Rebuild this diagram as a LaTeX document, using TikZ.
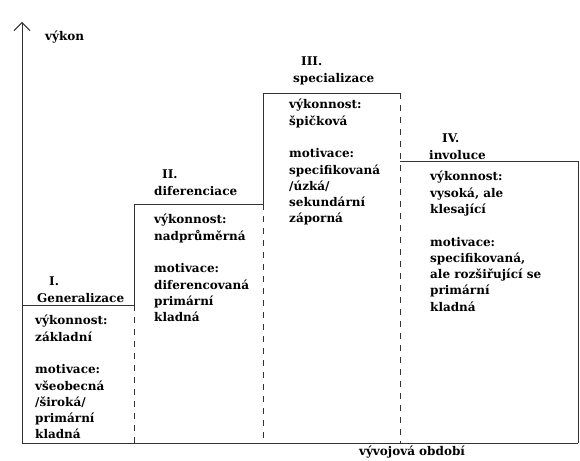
\documentclass[tikz,border=0pt]{standalone}
\usepackage{fontspec}
\setmainfont{DejaVu Serif}
\usetikzlibrary{positioning, arrows.meta}

\begin{document}
\begin{tikzpicture}[
    x=1pt, y=-1pt,
    axis/.style={draw=black!80, line width=1pt},
    step line/.style={draw=black!80, line width=1pt},
    divider/.style={draw=black!80, line width=1pt, dash pattern=on 6pt off 6pt},
    phase/.style={font=\bfseries\fontsize{12}{16.3}\selectfont, align=left, anchor=north west, inner sep=0pt},
    heading/.style={phase}
]
    \useasboundingbox (0,0) rectangle (580,460);

    % corners of the step profile
    \coordinate (origin) at (22,443);
    \coordinate (top) at (22,22);
    \coordinate (end) at (578,443);
    \coordinate (s1) at (22,305);
    \coordinate (s1r) at (134,305);
    \coordinate (s2) at (134,204);
    \coordinate (s2r) at (263,204);
    \coordinate (s3) at (263,93);
    \coordinate (s3r) at (400,93);
    \coordinate (s4) at (400,161);
    \coordinate (s4r) at (578,161);

    % axes
    \draw[axis, -{Straight Barb[length=8pt, width=16pt]}] (origin) -- (top);
    \draw[axis] (origin) -- (end);
    \node[heading] (ylabel) at (45,31) {výkon};
    \node[heading, anchor=north] (xlabel) at (412,446) {vývojová období};

    % step profile
    \draw[step line] (s1) -- (s1r) -- (s2) -- (s2r) -- (s3) -- (s3r);
    \draw[step line] (s4) -- (s4r) -- (end);

    % period borders
    \draw[divider] (s1r) -- (s1r |- origin);
    \draw[divider] (s2r) -- (s2r |- origin);
    \draw[divider] (s3r) -- (s3r |- origin);

    % I.
    \node[heading] (h1) at (37,277) {\hspace*{12pt}I.\\Generalizace};
    \node[phase] (p1) at (35,315) {výkonnost:\\základní\\[16.3pt]motivace:\\všeobecná\\/široká/\\primární\\kladná};

    % II.
    \node[heading] (h2) at (154,170) {\hspace*{8pt}II.\\diferenciace};
    \node[phase] (p2) at (154,214) {výkonnost:\\nadprůměrná\\[16.3pt]motivace:\\diferencovaná\\primární\\kladná};

    % III.
    \node[heading] (h3) at (293,57) {\hspace*{8pt}III.\\specializace};
    \node[phase] (p3) at (289,99) {výkonnost:\\špičková\\[16.3pt]motivace:\\specifikovaná\\/úzká/\\sekundární\\záporná};

    % IV.
    \node[heading] (h4) at (429,134) {\hspace*{13pt}IV.\\involuce};
    \node[phase] (p4) at (430,171) {výkonnost:\\vysoká, ale\\klesající\\[16.3pt]motivace:\\specifikovaná,\\ale rozšiřující se\\primární\\kladná};

\end{tikzpicture}
\end{document}
